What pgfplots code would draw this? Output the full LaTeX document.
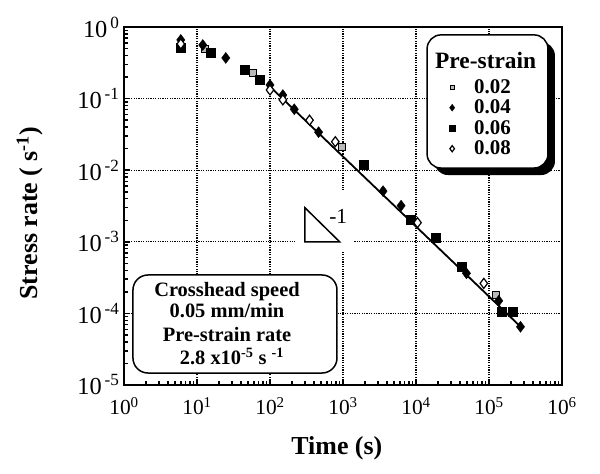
\documentclass[border=0pt]{standalone}
\usepackage{fontspec}
\setmainfont{Liberation Serif}
\usepackage{pgfplots}
\pgfplotsset{compat=1.18}
\usetikzlibrary{calc}
\pgfplotsset{legimg/.style={legend image code/.code={\path[draw=none] (-4bp,-10.25bp) rectangle (20bp,10.25bp); \draw[##1,/tikz/every mark/.append style={scale=0.62}] plot coordinates {(0bp,0bp)};}}}
\begin{document}
\begin{tikzpicture}
\path[use as bounding box] (-124bp,-89bp) rectangle (476bp,385bp);
\begin{axis}[
  at={(0,0)}, anchor=south west,
  scale only axis, width=438bp, height=358bp,
  xmode=log, ymode=log,
  xmin=1, xmax=1e6, ymin=1e-5, ymax=1,
  xtick={1,10,100,1000,10000,100000,1000000},
  xticklabels={10\textsuperscript{0},10\textsuperscript{1},10\textsuperscript{2},10\textsuperscript{3},10\textsuperscript{4},10\textsuperscript{5},10\textsuperscript{6}},
  ytick={1e-5,1e-4,1e-3,1e-2,1e-1,1},
  yticklabels={10\kern3bp\textsuperscript{-5},10\kern3bp\textsuperscript{-4},10\kern3bp\textsuperscript{-3},10\kern3bp\textsuperscript{-2},10\kern3bp\textsuperscript{-1},10\kern3bp\textsuperscript{0}},
  minor xtick={2,3,4,5,6,7,8,9,20,30,40,50,60,70,80,90,200,300,400,500,600,700,800,900,2000,3000,4000,5000,6000,7000,8000,9000,20000,30000,40000,50000,60000,70000,80000,90000,200000,300000,400000,500000,600000,700000,800000,900000},
  minor ytick={2e-5,3e-5,4e-5,5e-5,6e-5,7e-5,8e-5,9e-5,2e-4,3e-4,4e-4,5e-4,6e-4,7e-4,8e-4,9e-4,2e-3,3e-3,4e-3,5e-3,6e-3,7e-3,8e-3,9e-3,2e-2,3e-2,4e-2,5e-2,6e-2,7e-2,8e-2,9e-2,0.2,0.3,0.4,0.5,0.6,0.7,0.8,0.9},
  tick pos=left, tick align=inside,
  major tick length=6bp, minor tick length=4bp,
  tick style={black, line width=1.5bp},
  axis line style={line width=1.8bp},
  xmajorgrids, ymajorgrids,
  major grid style={black, line width=1.2bp, dash pattern=on 1.2bp off 1.2bp},
  xticklabel style={font=\fontsize{21.5}{24}\selectfont, yshift=-9bp},
  yticklabel style={font=\fontsize{24.5}{27}\selectfont, xshift=-1bp},
  label style={font=\fontsize{26}{30}\selectfont\bfseries},
  xlabel={Time (s)},
  ylabel={Stress rate ( s\textsuperscript{-1})},
  xlabel style={at={(axis description cs:0.486,-0.176)}, anchor=center},
  ylabel style={at={(axis description cs:-0.2146,0.48)}, anchor=center},
  legend style={at={(axis description cs:0.7397,0.861)}, anchor=north west, draw=none, fill=none, inner sep=0pt, row sep=0pt,
    font=\fontsize{21}{24}\selectfont\bfseries},
  legend cell align=left,
]
% slope triangle with white background
\fill[white] (axis cs:222,5.29e-3) rectangle (axis cs:1384,7.44e-4);
\draw[line width=1.5bp] (axis cs:300,1e-3) -- (axis cs:300,3e-3) -- (axis cs:900,1e-3) -- cycle;
\node[font=\fontsize{21.5}{24}\selectfont, anchor=center] at (axis cs:861,2.29e-3) {-1};
% info box
\draw[line width=1.5bp, fill=white, rounded corners=15bp] (axis description cs:0.0205,0.0335) rectangle (axis description cs:0.4863,0.3073);
\node[anchor=base, font=\fontsize{20.5}{24}\selectfont\bfseries, inner sep=0pt] at (axis description cs:0.2352,0.2486) {Crosshead speed};
\node[anchor=base, font=\fontsize{20.5}{24}\selectfont\bfseries, inner sep=0pt] at (axis description cs:0.2352,0.1872) {0.05 mm/min};
\node[anchor=base, font=\fontsize{20.5}{24}\selectfont\bfseries, inner sep=0pt] at (axis description cs:0.2352,0.1229) {Pre-strain rate};
\node[anchor=base, font=\fontsize{20.5}{24}\selectfont\bfseries, inner sep=0pt] at (axis description cs:0.2466,0.0559) {2.8 x10\textsuperscript{-5} s \textsuperscript{-1}};
% legend box with shadow
\fill[black, rounded corners=14bp] ($(axis description cs:0.692,0.606)+(7bp,-7bp)$) rectangle ($(axis description cs:0.968,0.978)+(7bp,-7bp)$);
\draw[line width=1.5bp, fill=white, rounded corners=14bp] (axis description cs:0.692,0.606) rectangle (axis description cs:0.968,0.978);
\node[anchor=base west, font=\fontsize{23.5}{26}\selectfont\bfseries, inner sep=0pt] at (axis description cs:0.710,0.8827) {Pre-strain};
% fitted line
\addplot[forget plot, black, line width=1.8bp] coordinates {(100,0.147) (2.85e5,6.2e-5)};
% data
\addplot[only marks, legimg, mark=square*, mark size=3.5bp, mark options={fill=gray!55, draw=black, line width=0.8bp}] coordinates {
(12.9,0.50) (59,0.225) (968,0.021) (1.23e5,1.81e-4)};
\addlegendentry{0.02}
\addplot[only marks, legimg, mark=diamond*, mark size=5.5bp, mark options={fill=black, draw=black}] coordinates {
(6,0.66) (12,0.56) (24.8,0.37) (100,0.155) (150,0.112) (215,0.071) (463,0.034) (3540,0.0051) (6250,0.0032) (49100,3.63e-4) (1.36e5,1.5e-4) (2.7e5,6.5e-5)};
\addlegendentry{0.04}
\addplot[only marks, legimg, mark=square*, mark size=4.5bp, mark options={fill=black, draw=black}] coordinates {
(6,0.51) (15.5,0.44) (45.7,0.25) (72,0.186) (1920,0.0118) (8380,0.00206) (18900,0.00115) (42900,4.46e-4) (1.47e5,1.06e-4) (2.08e5,1.06e-4)};
\addlegendentry{0.06}
\addplot[only marks, legimg, mark=diamond*, mark size=5bp, mark options={fill=white, draw=black, line width=1.2bp}] coordinates {
(6,0.58) (100,0.132) (150,0.096) (348,0.050) (784,0.025) (10500,0.00185) (84900,2.63e-4)};
\addlegendentry{0.08}
\end{axis}
\end{tikzpicture}
\end{document}
